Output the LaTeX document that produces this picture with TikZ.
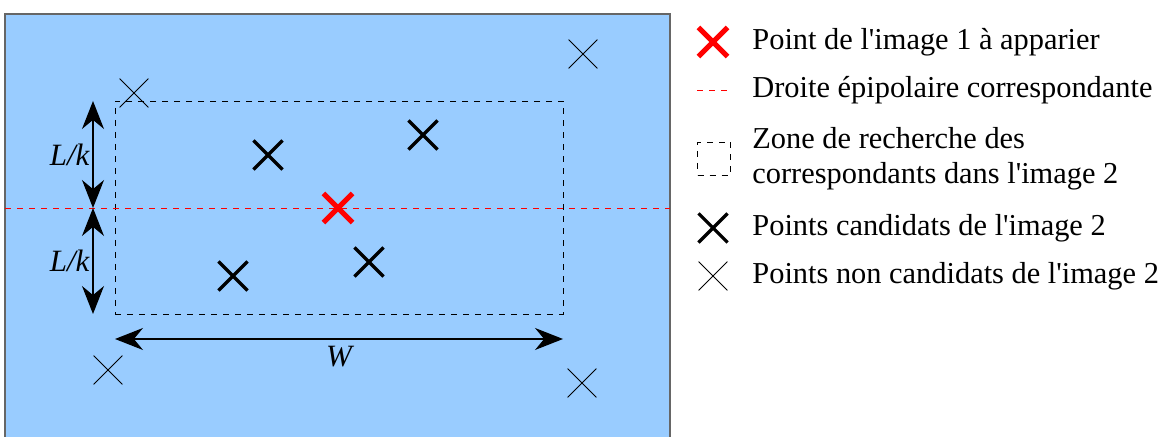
\documentclass[tikz,border=0pt]{standalone}
\usepackage{fontspec}
\setmainfont{Liberation Serif}[Ligatures=TeXOff]
\usetikzlibrary{arrows.meta, positioning, shapes.misc}

\definecolor{imgblue}{RGB}{153,204,255}

\tikzset{
    cand/.style = {cross out, draw=black, line width=1.6pt, minimum size=13pt, inner sep=0pt},
    noncand/.style = {cross out, draw=black, line width=0.4pt, minimum size=14pt, inner sep=0pt},
    target/.style = {cross out, draw=red, line width=2.6pt, minimum size=12pt, inner sep=0pt},
    legtext/.style = {anchor=west, font=\fontsize{15.2}{17.5}\selectfont, align=left, inner sep=0pt},
    dimtext/.style = {font=\fontsize{15.5}{17}\selectfont\itshape},
    dim/.style = {{Stealth[length=14pt, width=11pt]}-{Stealth[length=14pt, width=11pt]}, line width=0.6pt}
}

\begin{document}
\begin{tikzpicture} [x=0.5pt, y=-0.5pt]
    \useasboundingbox (0,0) rectangle (1173,437);

    % image 2
    \fill [imgblue] (5,14) rectangle (670,437);
    \draw [gray!80!black, line width=0.6pt] (5,437) -- (5,14) -- (670,14) -- (670,437);

    \node (zone) [draw, dashed, line width=0.4pt, minimum width=224pt, minimum height=106.5pt, inner sep=0pt] at (339,207.5) {};
    \draw [red, dashed, line width=0.4pt] (5,208) -- (670,208);

    \node (p) [target] at (338,208) {};
    \node (c1) [cand] at (268,155) {};
    \node (c2) [cand] at (423,135) {};
    \node (c3) [cand] at (233,276) {};
    \node (c4) [cand] at (369,262) {};
    \node (n1) [noncand] at (583,54) {};
    \node (n2) [noncand] at (134,93) {};
    \node (n3) [noncand] at (108,370) {};
    \node (n4) [noncand] at (582,383) {};

    % dimensions
    \coordinate (ltop) at (93,101);
    \coordinate (lmid) at (93,208);
    \coordinate (lbot) at (93,314);
    \coordinate (wl) at (115,339);
    \coordinate (wr) at (563,339);
    \path [dim] (ltop) edge node [left, dimtext, inner sep=1.5pt] {L/k} (lmid);
    \path [dim] (lmid) edge node [left, dimtext, inner sep=1.5pt] {L/k} (lbot);
    \path [dim] (wl) edge node [below, dimtext] {W} (wr);

    % legend
    \node (kp) [target] at (713,42) {};
    \node (tp) [legtext] at (752,42) {Point de l'image 1 à apparier};
    \draw [red, dashed, line width=0.4pt] (697,90) -- (731,90);
    \node (te) [legtext] at (752,90) {Droite épipolaire correspondante};
    \node (kz) [draw, dashed, line width=0.4pt, minimum size=16.5pt, inner sep=0pt] at (714,158.5) {};
    \node (tz) [legtext] at (752,159) {Zone de recherche des\\correspondants dans l'image 2};
    \node (kc) [cand] at (713,228) {};
    \node (tc) [legtext] at (752,228) {Points candidats de l'image 2};
    \node (kn) [noncand] at (713,276) {};
    \node (tn) [legtext] at (752,276) {Points non candidats de l'image 2};
\end{tikzpicture}
\end{document}
